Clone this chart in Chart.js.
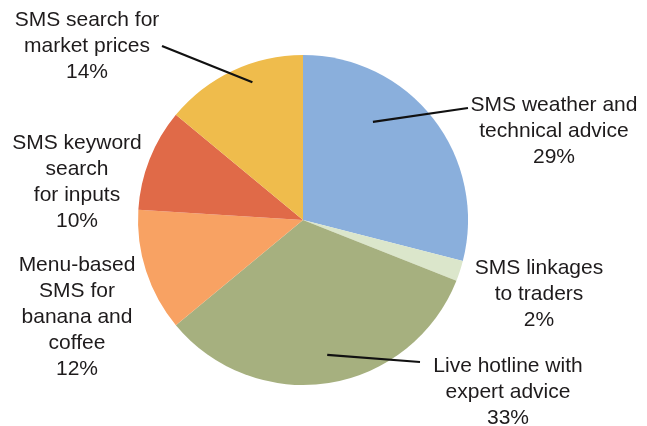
<!DOCTYPE html>
<html lang="en">
<head>
    <meta charset="UTF-8">
    <title>Pie</title>
    <style>
        html, body { margin: 0; padding: 0; background: #fff; }
    </style>
</head>
<body>
    <canvas id="myChart" width="647" height="426"></canvas>

    <script src="https://cdn.jsdelivr.net/npm/chart.js@4"></script>
    <script>

        // data
        let labels = [
            'SMS weather and technical advice',
            'SMS linkages to traders',
            'Live hotline with expert advice',
            'Menu-based SMS for banana and coffee',
            'SMS keyword search for inputs',
            'SMS search for market prices'
        ];
        let labelLines = [
            ['SMS weather and', 'technical advice'],
            ['SMS linkages', 'to traders'],
            ['Live hotline with', 'expert advice'],
            ['Menu-based', 'SMS for', 'banana and', 'coffee'],
            ['SMS keyword', 'search', 'for inputs'],
            ['SMS search for', 'market prices']
        ];
        let shares = [29, 2, 33, 12, 10, 14];
        let colors = ['#8aafdc', '#dbe6cb', '#a6b07f', '#f8a263', '#e06a48', '#efbc4c'];

        // label placement (first line centre) and leader lines
        let labelPos = [
            {x: 554, y: 105, lead: {x: 468, y: 108, ang: 0.34, r: 0.73}},
            {x: 539, y: 268},
            {x: 508, y: 366, lead: {x: 420, y: 362, ang: 0.49, r: 0.83}},
            {x: 77, y: 265},
            {x: 77, y: 143},
            {x: 87, y: 20, lead: {x: 162, y: 46, ang: 0.6, r: 0.89}}
        ];

        const pieLabels = {
            id: 'pieLabels',
            afterDatasetsDraw(chart) {
                const ctx = chart.ctx;
                const arcs = chart.getDatasetMeta(0).data;
                ctx.save();
                ctx.font = '21px "Liberation Sans", Arial, sans-serif';
                ctx.fillStyle = '#1e1b1c';
                ctx.textAlign = 'center';
                ctx.textBaseline = 'middle';
                arcs.forEach((arc, i) => {
                    const p = labelPos[i];
                    const lines = labelLines[i].concat([shares[i] + '%']);
                    lines.forEach((t, k) => ctx.fillText(t, p.x, p.y + k * 26));
                    if (p.lead) {
                        const a = arc.startAngle + (arc.endAngle - arc.startAngle) * p.lead.ang;
                        const ex = arc.x + Math.cos(a) * arc.outerRadius * p.lead.r;
                        const ey = arc.y + Math.sin(a) * arc.outerRadius * p.lead.r;
                        ctx.beginPath();
                        ctx.moveTo(p.lead.x, p.lead.y);
                        ctx.lineTo(ex, ey);
                        ctx.lineWidth = 2.2;
                        ctx.strokeStyle = '#111';
                        ctx.stroke();
                    }
                });
                ctx.restore();
            }
        };

        var ctx = document.getElementById('myChart').getContext('2d');
        var myChart = new Chart(ctx, {
            type: 'pie',
            data: {
                labels: labels,
                datasets: [{
                    data: shares,
                    backgroundColor: colors,
                    borderWidth: 0
                }]
            },
            options: {
                responsive: false,
                animation: false,
                layout: {padding: {left: 138, right: 179, top: 55, bottom: 41}},
                plugins: {legend: {display: false}, tooltip: {enabled: false}}
            },
            plugins: [pieLabels]
        });
    </script>
</body>
</html>
